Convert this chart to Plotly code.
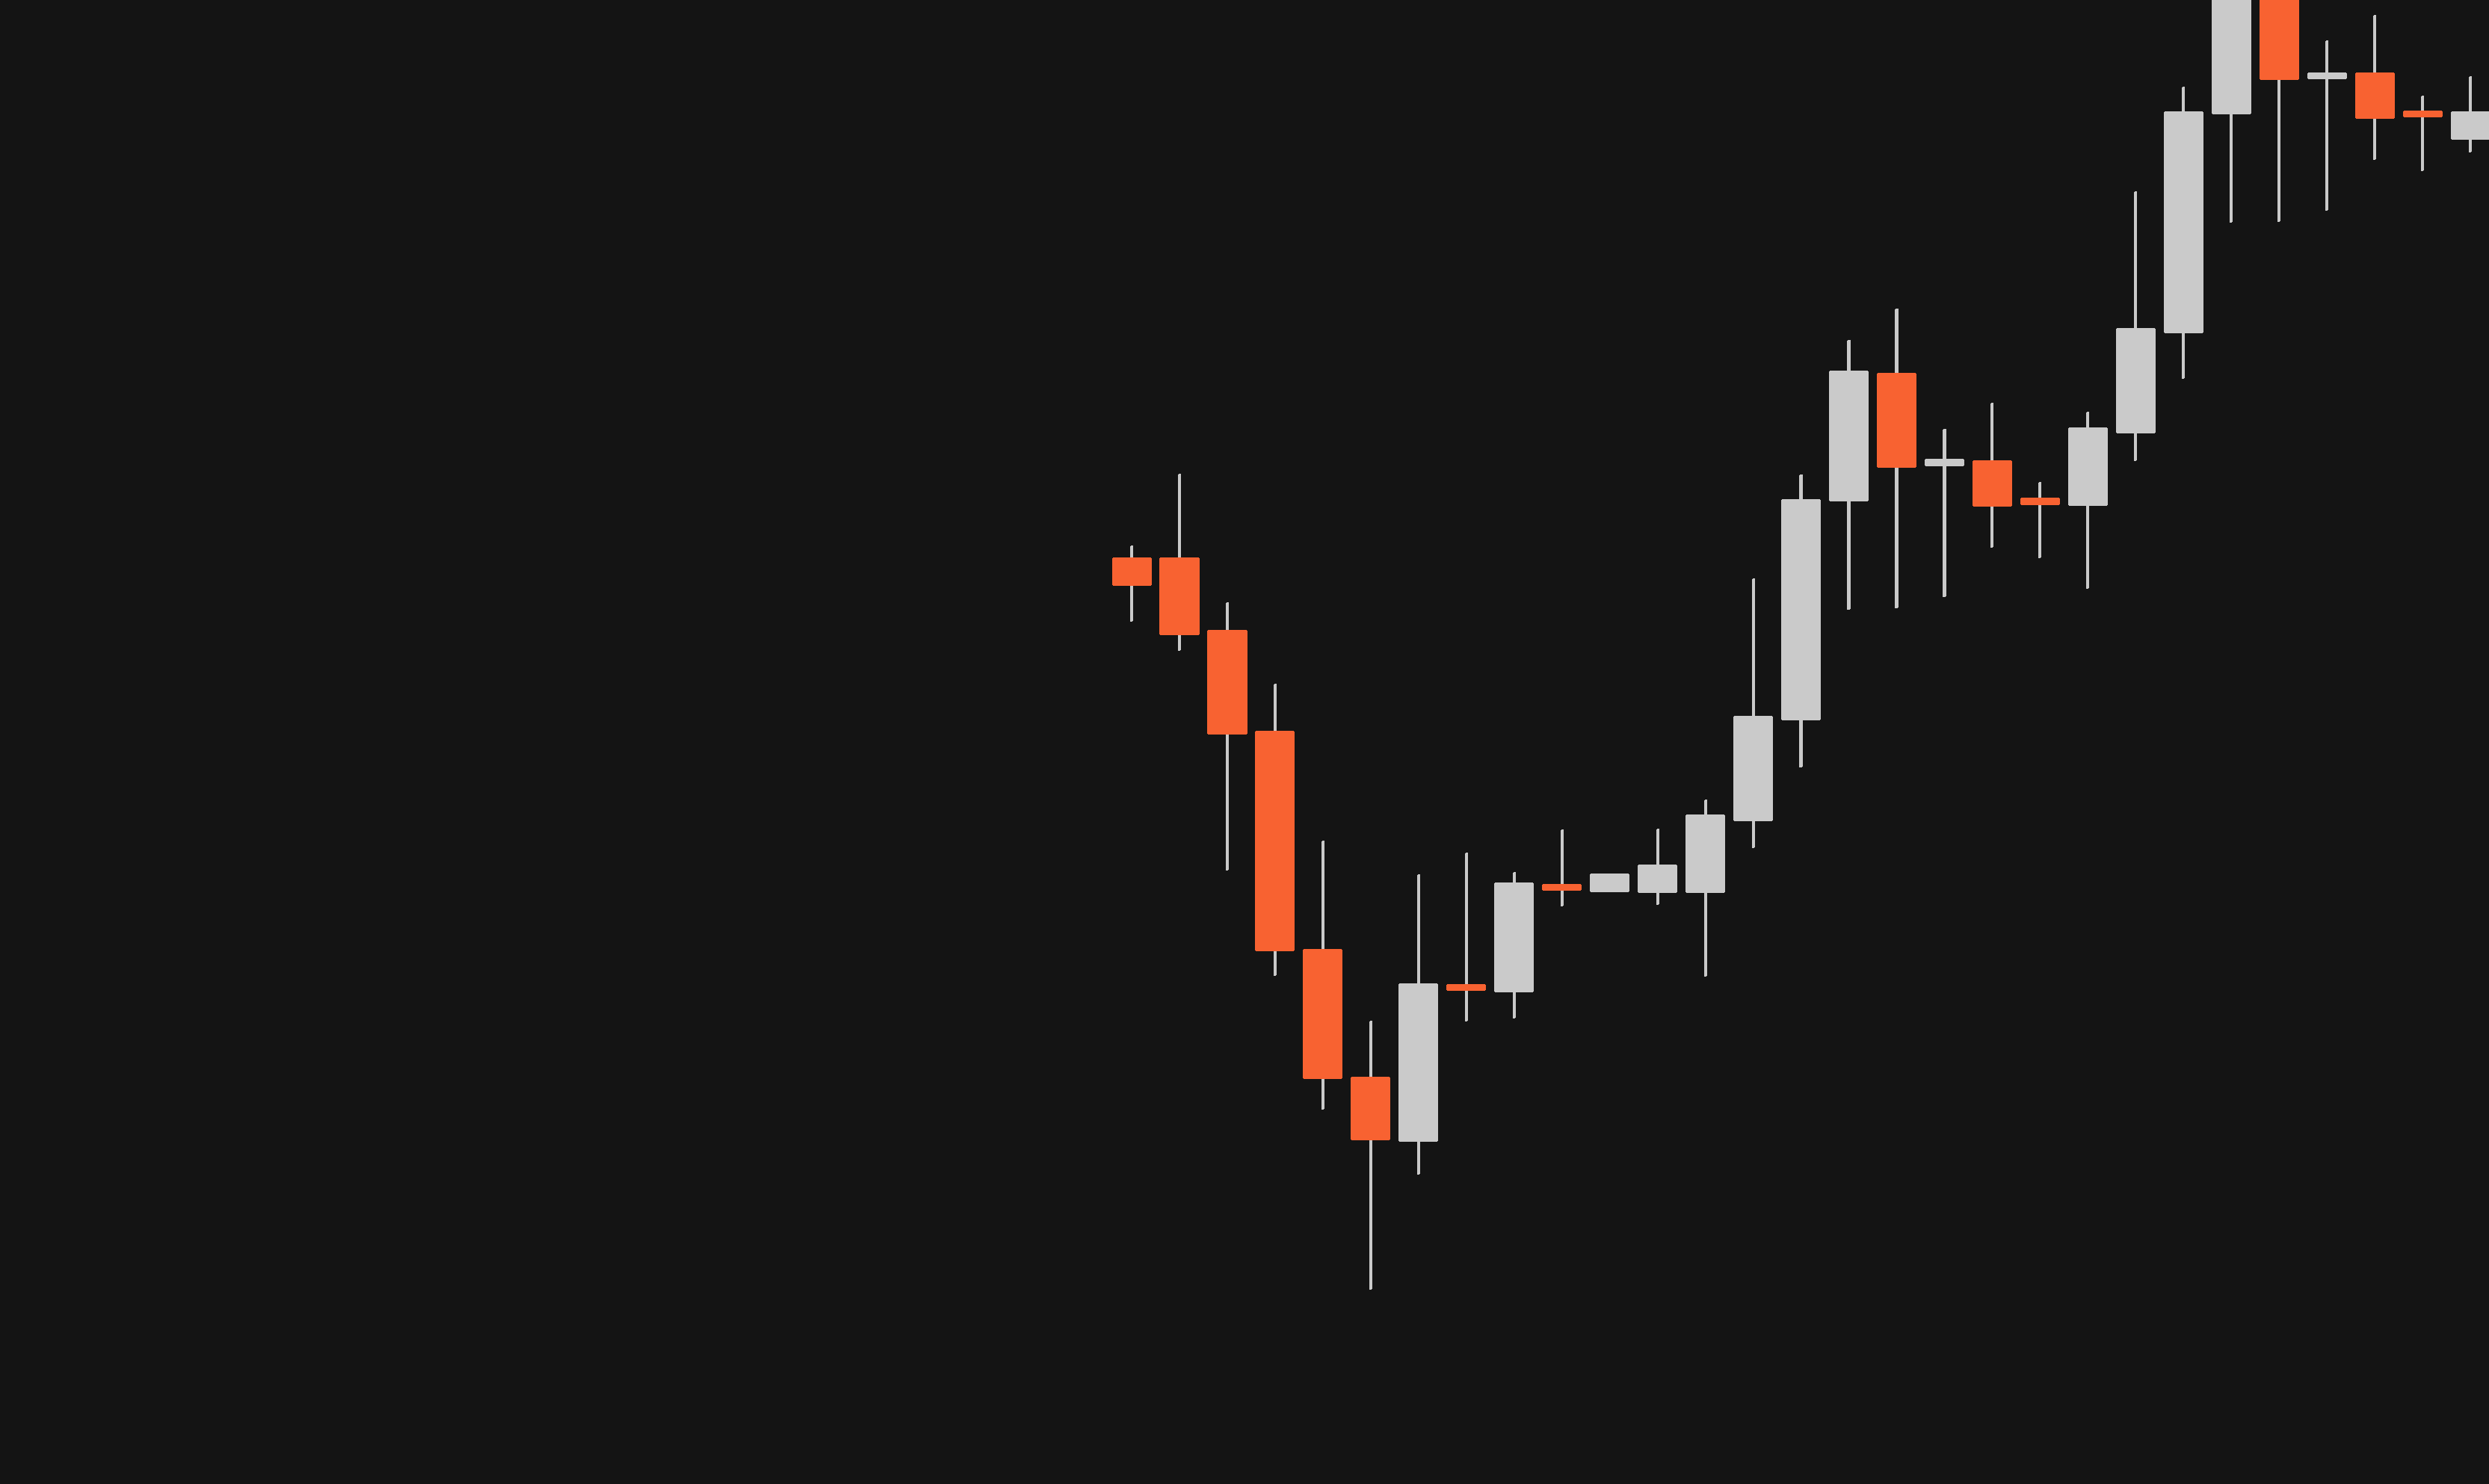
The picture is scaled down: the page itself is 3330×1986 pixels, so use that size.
import plotly.graph_objects as go

# OHLC values (arbitrary price units, axes hidden)
opens  = [162.00, 162.00, 157.16, 150.42, 135.82, 127.24, 122.92, 133.43, 132.89, 140.17,
          139.60, 139.55, 139.55, 144.36, 151.12, 165.73, 174.36, 168.12, 168.51, 166.00,
          165.45, 170.30, 177.02, 191.64, 200.55, 194.02, 194.43, 191.90, 189.94]
highs  = [162.78, 167.58, 159.00, 153.53, 143.05, 131.02, 140.81, 142.23, 140.95, 143.79,
          140.85, 143.84, 145.80, 160.58, 167.54, 176.54, 178.64, 170.61, 172.36, 167.03,
          171.73, 186.49, 193.50, 205.30, 202.80, 196.58, 198.30, 192.92, 194.20]
lows   = [157.71, 155.77, 141.03, 133.99, 125.04, 113.01, 120.71, 130.93, 131.17, 138.67,
          139.60, 138.74, 133.97, 142.53, 147.97, 158.51, 158.58, 159.33, 162.67, 161.94,
          159.88, 168.44, 173.94, 184.40, 184.45, 185.20, 188.58, 187.85, 189.12]
closes = [160.10, 156.80, 150.16, 135.64, 127.09, 122.99, 133.51, 132.98, 140.26, 139.70,
          140.85, 141.47, 144.79, 151.42, 165.91, 174.48, 168.00, 168.58, 165.42, 165.51,
          170.70, 177.34, 191.85, 200.80, 193.94, 194.46, 191.35, 191.45, 191.85]

UP = "#CACACA"
DOWN = "#F86231"
BG = "#141414"

n = len(opens)
xs = list(range(n))

wick_base = lows
wick_len = [h - l for h, l in zip(highs, lows)]
body_base = [min(o, c) for o, c in zip(opens, closes)]
body_len = [max(abs(c - o), 0.35) for o, c in zip(opens, closes)]
body_col = [UP if c >= o else DOWN for o, c in zip(opens, closes)]

fig = go.Figure()
fig.add_trace(go.Bar(
    x=xs, y=wick_len, base=wick_base, width=0.065,
    marker=dict(color=UP, line=dict(width=0), cornerradius=2),
    hoverinfo="skip", showlegend=False,
))
fig.add_trace(go.Bar(
    x=xs, y=body_len, base=body_base, width=0.83,
    marker=dict(color=body_col, line=dict(width=0), cornerradius=3),
    hoverinfo="skip", showlegend=False,
))

fig.update_layout(
    width=3330, height=1986,
    margin=dict(l=0, r=0, t=0, b=0),
    paper_bgcolor=BG, plot_bgcolor=BG,
    barmode="overlay", bargap=0,
    showlegend=False,
    xaxis=dict(range=[-23.67, 28.39], visible=False, showgrid=False, zeroline=False),
    yaxis=dict(range=[100, 199.3], visible=False, showgrid=False, zeroline=False),
)

page_style = (
    "document.body.style.margin='0';"
    "document.body.style.background='#141414';"
    "document.body.style.overflow='hidden';"
)

fig.write_html("out.html", config={"displayModeBar": False}, post_script=page_style)
